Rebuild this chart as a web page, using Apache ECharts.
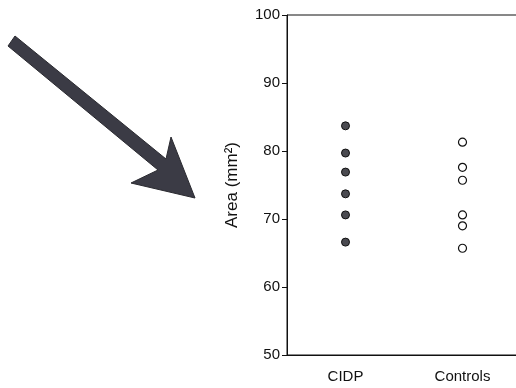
<!DOCTYPE html>
<html>
<head>
<meta charset="utf-8">
<script src="https://cdn.jsdelivr.net/npm/echarts@6/dist/echarts.min.js"></script>
<style>
html,body{margin:0;padding:0;background:#fff;}
#c{width:516px;height:388px;}
</style>
</head>
<body>
<div id="c"></div>
<script>
const categories = ['CIDP', 'Controls'];
const cidpValues = [83.7, 79.7, 76.9, 73.7, 70.6, 66.6];
const controlValues = [81.3, 77.6, 75.7, 70.6, 69.0, 65.7];
const yTicks = [50, 60, 70, 80, 90, 100];
const yAxisTitle = 'Area (mm²)';

const chart = echarts.init(document.getElementById('c'), null, {renderer: 'canvas'});
const font = 'Liberation Sans, Arial, sans-serif';
chart.setOption({
  animation: false,
  backgroundColor: '#fff',
  grid: {left: 287, top: 15, width: 234, height: 340, outerBoundsMode: 'none', containLabel: false,
         show: true, borderColor: '#111', borderWidth: 1},
  xAxis: {
    type: 'category',
    data: categories,
    boundaryGap: true,
    axisLine: {lineStyle: {color: '#111', width: 1}},
    axisTick: {alignWithLabel: true, length: 5, lineStyle: {color: '#111'}},
    axisLabel: {color: '#111', fontSize: 15, fontFamily: font, margin: 14}
  },
  yAxis: {
    type: 'value',
    min: yTicks[0], max: yTicks[yTicks.length - 1], interval: 10,
    name: yAxisTitle,
    nameLocation: 'middle',
    nameGap: 46,
    nameRotate: 90,
    nameTextStyle: {color: '#111', fontSize: 17, fontFamily: font},
    axisLine: {show: true, lineStyle: {color: '#111', width: 1}},
    axisTick: {show: true, length: 5, lineStyle: {color: '#111'}},
    splitLine: {show: false},
    axisLabel: {color: '#111', fontSize: 15, fontFamily: font, margin: 7}
  },
  series: [
    {
      type: 'scatter',
      symbol: 'circle',
      symbolSize: 8,
      itemStyle: {color: '#4a4a50', borderColor: '#111', borderWidth: 1, opacity: 1},
      data: cidpValues.map(v => [categories[0], v])
    },
    {
      type: 'scatter',
      symbol: 'circle',
      symbolSize: 8,
      itemStyle: {color: '#fff', borderColor: '#111', borderWidth: 1.2, opacity: 1},
      data: controlValues.map(v => [categories[1], v])
    }
  ],
  graphic: [
    {
      type: 'polygon',
      shape: {points: [[8,46],[15,36],[166,159],[171,137],[195,198],[131,183],[158,170]]},
      style: {fill: '#3b3b45', stroke: '#2a2a30', lineWidth: 1}
    }
  ]
});
</script>
</body>
</html>
